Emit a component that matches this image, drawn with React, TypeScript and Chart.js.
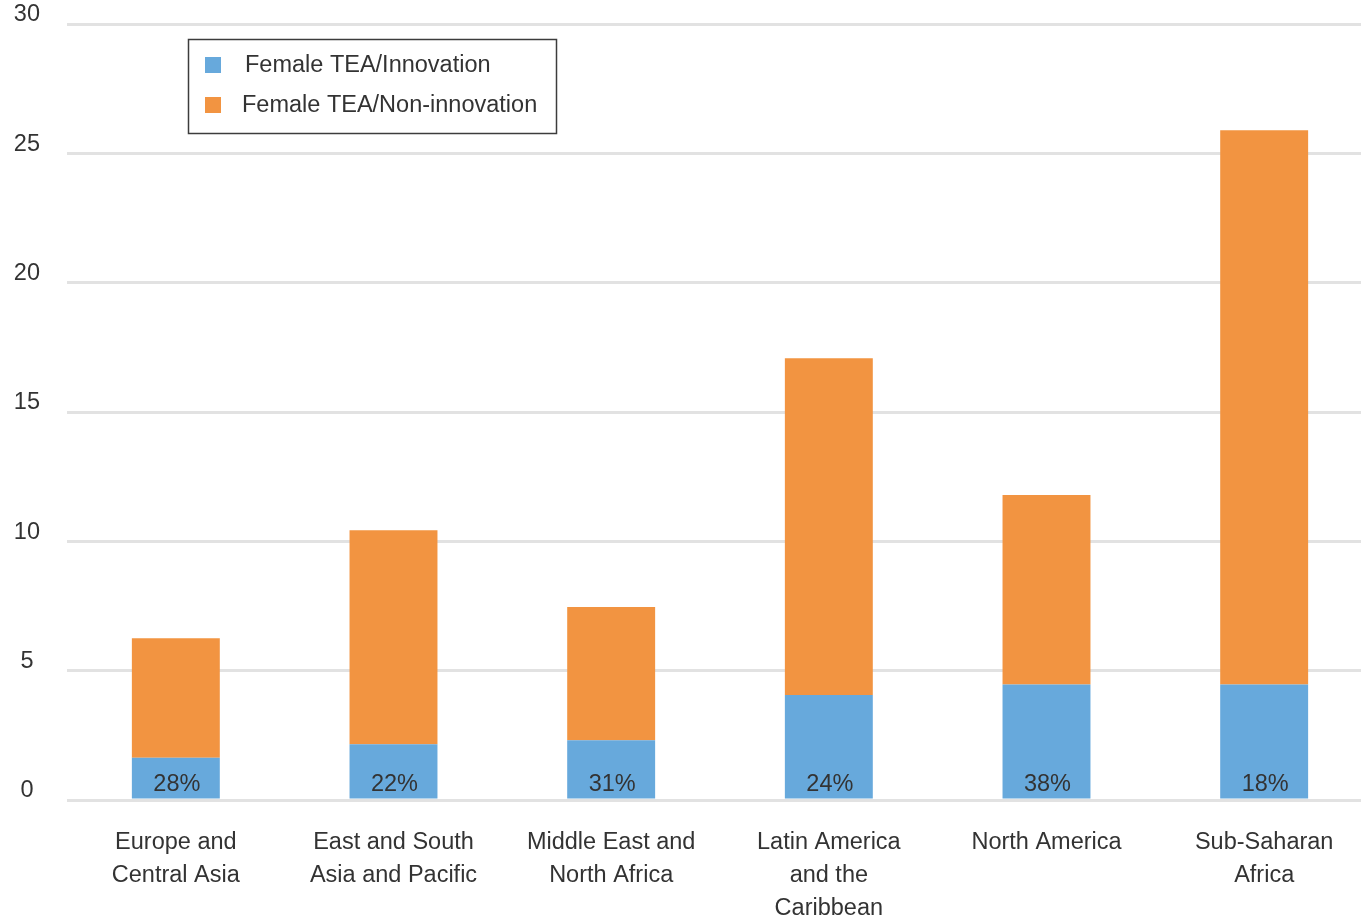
import React, { useEffect, useRef } from "react";
import { Chart, registerables } from "chart.js";

Chart.register(...registerables);

// Regions (multi-line axis labels)
const regions: string[][] = [
  ["Europe and", "Central Asia"],
  ["East and South", "Asia and Pacific"],
  ["Middle East and", "North Africa"],
  ["Latin America", "and the", "Caribbean"],
  ["North America"],
  ["Sub-Saharan", "Africa"],
];

// Female TEA rates (% of adult women), split by innovation
const innovation: number[] = [1.63, 2.16, 2.31, 4.06, 4.47, 4.47];
const nonInnovation: number[] = [4.62, 8.27, 5.15, 13.02, 7.32, 21.42];

// Share of female entrepreneurs that are innovative
const innovationShare: string[] = ["28%", "22%", "31%", "24%", "38%", "18%"];

const yTicks = { min: 0, max: 30, step: 5 };

const seriesNames = ["Female TEA/Innovation", "Female TEA/Non-innovation"];
const BLUE = "#67a9dc";
const ORANGE = "#f29441";
const TEXT = "#333333";
const FONT = "'Liberation Sans', Arial, sans-serif";
const FONT_SIZE = 23.5;

const overlayPlugin = {
  id: "overlay",
  afterDatasetsDraw(chart: any) {
    const { ctx } = chart;
    const meta = chart.getDatasetMeta(0);
    ctx.save();
    ctx.fillStyle = TEXT;
    ctx.font = `${FONT_SIZE}px ${FONT}`;
    ctx.textAlign = "center";
    ctx.textBaseline = "middle";
    meta.data.forEach((bar: any, i: number) => {
      ctx.fillText(innovationShare[i], bar.x + 1, bar.base - 14);
    });
    ctx.restore();
  },
  afterDraw(chart: any) {
    const { ctx } = chart;
    ctx.save();
    // legend frame
    const bx = 188.5, by = 39.5, bw = 368, bh = 94;
    ctx.fillStyle = "#ffffff";
    ctx.fillRect(bx, by, bw, bh);
    ctx.strokeStyle = "#3c3c3c";
    ctx.lineWidth = 1.5;
    ctx.strokeRect(bx, by, bw, bh);
    ctx.font = `${FONT_SIZE}px ${FONT}`;
    ctx.textAlign = "left";
    ctx.textBaseline = "middle";
    const rows = [65, 105];
    chart.data.datasets.forEach((ds: any, i: number) => {
      const cy = rows[i];
      ctx.fillStyle = ds.backgroundColor;
      ctx.fillRect(205, cy - 8, 16, 16);
      ctx.fillStyle = TEXT;
      ctx.fillText(ds.label, i === 0 ? 245 : 242, cy + 1);
    });
    ctx.restore();
  },
};

export default function App() {
  const ref = useRef<HTMLCanvasElement>(null);

  useEffect(() => {
    if (!ref.current) return;
    const chart = new Chart(ref.current, {
      type: "bar",
      data: {
        labels: regions,
        datasets: [
          { label: seriesNames[0], data: innovation, backgroundColor: BLUE },
          { label: seriesNames[1], data: nonInnovation, backgroundColor: ORANGE },
        ],
      },
      options: {
        responsive: false,
        animation: false,
        layout: { padding: { top: 24, left: 0, right: 0, bottom: 0 } },
        datasets: {
          bar: { categoryPercentage: 1, barPercentage: 0.404, borderWidth: 0 },
        },
        plugins: {
          legend: { display: false },
          tooltip: { enabled: false },
        },
        scales: {
          x: {
            stacked: true,
            grid: { display: false, drawTicks: false },
            border: { display: false },
            ticks: {
              color: TEXT,
              padding: 26,
              maxRotation: 0,
              autoSkip: false,
              font: { family: FONT, size: FONT_SIZE, lineHeight: 1.4 },
            },
            afterFit(scale: any) {
              scale.height = 119;
              scale.paddingLeft = 0;
              scale.paddingRight = 0;
            },
          },
          y: {
            stacked: true,
            min: yTicks.min,
            max: yTicks.max,
            grid: { color: "#e2e2e2", lineWidth: 3, drawTicks: false },
            border: { display: false },
            ticks: {
              stepSize: yTicks.step,
              color: TEXT,
              padding: 27,
              crossAlign: "center",
              labelOffset: -9,
              font: { family: FONT, size: FONT_SIZE },
            },
            afterFit(scale: any) {
              scale.width = 67;
              scale.paddingTop = 0;
              scale.paddingBottom = 0;
            },
          },
        },
      },
      plugins: [overlayPlugin],
    });
    return () => chart.destroy();
  }, []);

  return (
    <div
      style={{
        position: "fixed",
        left: 0,
        top: 0,
        width: "100vw",
        height: "100vh",
        overflow: "hidden",
        background: "#ffffff",
      }}
    >
      <canvas ref={ref} width={1373} height={919} style={{ display: "block" }} />
    </div>
  );
}
